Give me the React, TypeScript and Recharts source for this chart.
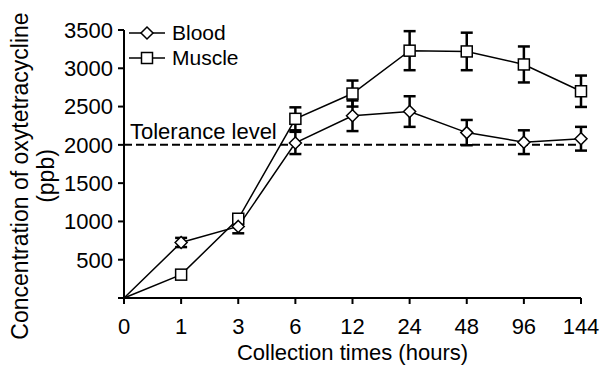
import React from "react";
import { LineChart, Line, XAxis, YAxis, ErrorBar, ReferenceLine, Legend } from "recharts";

const times = ["0", "1", "3", "6", "12", "24", "48", "96", "144"];
const blood = [0, 725, 935, 2025, 2380, 2435, 2160, 2035, 2080];
const bloodErr = [null, 60, 90, 145, 200, 200, 165, 155, 155];
const muscle = [0, 305, 1035, 2340, 2670, 3230, 3220, 3050, 2700];
const muscleErr = [null, null, null, 150, 170, 255, 245, 235, 205];
const yTicks = [0, 500, 1000, 1500, 2000, 2500, 3000, 3500];
const tolerance = 2000;

const data = times.map((t, i) => ({
  time: t,
  blood: blood[i],
  bloodErr: bloodErr[i],
  muscle: muscle[i],
  muscleErr: muscleErr[i],
}));

const FONT = "'Liberation Sans', Arial, sans-serif";

function Diamond(props: any) {
  const { cx, cy, index } = props;
  if (cx == null || index === 0) return <g key={`d-${index}`} />;
  const r = 6;
  return (
    <path
      key={`d-${index}`}
      d={`M${cx},${cy - r}L${cx + r},${cy}L${cx},${cy + r}L${cx - r},${cy}Z`}
      fill="#fff"
      stroke="#000"
      strokeWidth={1.5}
    />
  );
}

function Square(props: any) {
  const { cx, cy, index } = props;
  if (cx == null || index === 0) return <g key={`s-${index}`} />;
  const r = 5.5;
  return (
    <rect
      key={`s-${index}`}
      x={cx - r}
      y={cy - r}
      width={r * 2}
      height={r * 2}
      fill="#fff"
      stroke="#000"
      strokeWidth={1.5}
    />
  );
}

function LegendBox() {
  const row = (kind: "d" | "s", label: string) => (
    <div style={{ display: "flex", alignItems: "center", height: 25 }}>
      <svg width={40} height={16}>
        <line x1={0} y1={8} x2={36} y2={8} stroke="#000" strokeWidth={1.5} />
        {kind === "d" ? (
          <path d="M18,2L24,8L18,14L12,8Z" fill="#fff" stroke="#000" strokeWidth={1.5} />
        ) : (
          <rect x={12.5} y={2.5} width={11} height={11} fill="#fff" stroke="#000" strokeWidth={1.5} />
        )}
      </svg>
      <span style={{ marginLeft: 3, fontSize: 21, color: "#000", fontFamily: FONT }}>{label}</span>
    </div>
  );
  return (
    <div>
      {row("d", "Blood")}
      {row("s", "Muscle")}
    </div>
  );
}

function YLabel(props: any) {
  const { viewBox } = props;
  const cy = viewBox.y + viewBox.height / 2 + 12;
  return (
    <g fontFamily={FONT} fontSize={23} fill="#000">
      <text x={20} y={cy} transform={`rotate(-90, 20, ${cy})`} textAnchor="middle" dominantBaseline="central">
        Concentration of oxytetracycline
      </text>
      <text x={46} y={cy} transform={`rotate(-90, 46, ${cy})`} textAnchor="middle" dominantBaseline="central">
        (ppb)
      </text>
    </g>
  );
}

export default function App() {
  return (
    <div style={{ position: "absolute", left: 0, top: 0, width: 608, height: 374, background: "#fff" }}>
      <LineChart
        width={608}
        height={374}
        data={data}
        margin={{ top: 30, right: 27, left: 0, bottom: 30 }}
        style={{ fontFamily: FONT }}
      >
        <XAxis
          dataKey="time"
          stroke="#000"
          strokeWidth={2}
          tickSize={6}
          tickMargin={14}
          height={46}
          tick={{ fill: "#000", fontSize: 22 }}
          label={{ value: "Collection times (hours)", position: "insideBottom", offset: -16, fill: "#000", fontSize: 22 }}
        />
        <YAxis
          domain={[0, 3500]}
          ticks={yTicks}
          interval={0}
          width={124}
          stroke="#000"
          strokeWidth={2}
          tickSize={6}
          tickMargin={5}
          tick={{ fill: "#000", fontSize: 22 }}
          tickFormatter={(v: number) => (v === 0 ? "" : String(v))}
          label={<YLabel />}
        />
        <ReferenceLine
          y={tolerance}
          stroke="#000"
          strokeWidth={2}
          strokeDasharray="8 4"
          label={{ value: "Tolerance level", position: "insideBottomLeft", offset: 6, fill: "#000", fontSize: 22 }}
        />
        <Legend
          layout="vertical"
          align="center"
          verticalAlign="middle"
          wrapperStyle={{ top: 20, left: 129, width: 140, height: 50 }}
          content={() => <LegendBox />}
        />
        <Line
          dataKey="muscle"
          name="Muscle"
          stroke="#000"
          strokeWidth={1.5}
          dot={Square}
          activeDot={false}
          isAnimationActive={false}
        >
          <ErrorBar dataKey="muscleErr" width={6} stroke="#000" strokeWidth={2.5} direction="y" />
        </Line>
        <Line
          dataKey="blood"
          name="Blood"
          stroke="#000"
          strokeWidth={1.5}
          dot={Diamond}
          activeDot={false}
          isAnimationActive={false}
        >
          <ErrorBar dataKey="bloodErr" width={6} stroke="#000" strokeWidth={2.5} direction="y" />
        </Line>
      </LineChart>
    </div>
  );
}
